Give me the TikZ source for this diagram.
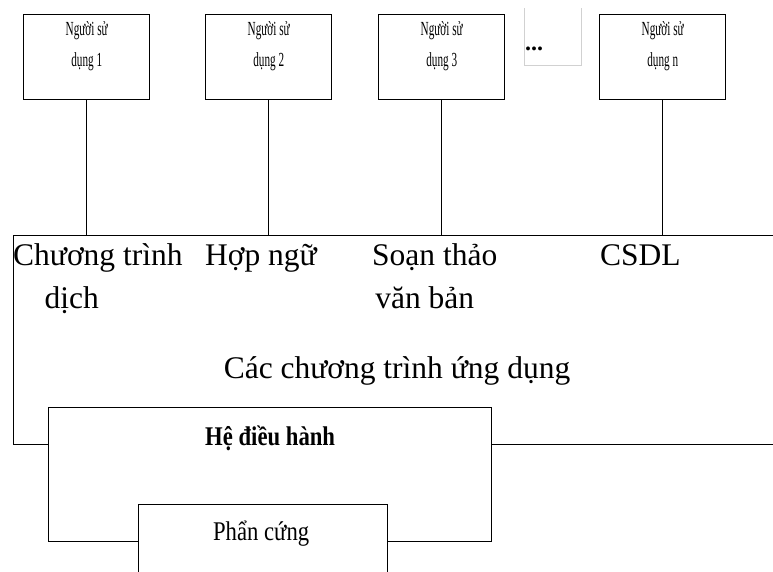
\documentclass[tikz,border=0pt]{standalone}
\usepackage{fontspec}
\setmainfont{Liberation Serif}
\newfontfamily\usrfont[FakeStretch=0.56]{Liberation Serif}
\newfontfamily\layerfont[FakeStretch=0.84]{Liberation Serif}
\usetikzlibrary{positioning}
\tikzset{
    userbox/.style={draw, line width=1.4pt, minimum width=126pt, minimum height=85pt, inner sep=0pt, anchor=north west},
    usertext/.style={align=center, inner sep=0pt, font=\usrfont\fontsize{20}{31}\selectfont},
    layerbox/.style={draw, fill=white, line width=1.3pt, inner sep=0pt, anchor=north west},
    apptext/.style={inner sep=0pt, align=left, font=\fontsize{31.5}{43}\selectfont},
    layertext/.style={inner sep=0pt, anchor=base, font=\layerfont\fontsize{27}{32}\selectfont},
    link/.style={line width=1.2pt},
    dotsline/.style={line width=0.8pt, black!18}
}

\begin{document}
\begin{tikzpicture}[x=1pt, y=-1pt]
    \useasboundingbox (0,0) rectangle (773,571);
    \clip (0,0) rectangle (773,571);

    % layers, bottom one drawn last
    \node[layerbox, minimum width=787pt, minimum height=209pt] (apps) at (13,235) {};
    \node[layerbox, minimum width=443pt, minimum height=134pt] (os) at (48,407) {};
    \node[layerbox, minimum width=249pt, minimum height=100pt] (hw) at (138,504) {};

    \node[layertext, font=\layerfont\bfseries\fontsize{27}{32}\selectfont] (ostext) at ([yshift=-38pt]os.north) {Hệ điều hành};
    \node[layertext] (hwtext) at ([xshift=-2pt, yshift=-36pt]hw.north) {Phẩn cứng};

    % users
    \node[userbox] (u1) at (23,14) {};
    \node[userbox] (u2) at (205,14) {};
    \node[userbox] (u3) at (378,14) {};
    \node[userbox] (un) at (599,14) {};
    \node[usertext, below=7pt of u1.north] (t1) {Người sử\\dụng 1};
    \node[usertext, below=7pt of u2.north] (t2) {Người sử\\dụng 2};
    \node[usertext, below=7pt of u3.north] (t3) {Người sử\\dụng 3};
    \node[usertext, below=7pt of un.north] (tn) {Người sử\\dụng n};

    \node[minimum width=57pt, minimum height=57pt, inner sep=0pt, anchor=north west] (dotsbox) at (524,8) {};
    \draw[dotsline] (dotsbox.north west) |- (dotsbox.south east) -- (dotsbox.north east);
    \node[inner sep=0pt, anchor=base west, font=\bfseries\fontsize{24}{28}\selectfont] (dots) at ([xshift=1pt, yshift=15pt]dotsbox.south west) {...};

    \draw[link] (u1) -- (u1 |- apps.north);
    \draw[link] (u2) -- (u2 |- apps.north);
    \draw[link] (u3) -- (u3 |- apps.north);
    \draw[link] (un) -- (un |- apps.north);

    % programs
    \node[apptext, anchor=north west] (compiler) at (13,243) {Chương trình\\\hspace*{1em}dịch};
    \node[apptext, anchor=base west] (asm) at (205,265) {Hợp ngữ};
    \node[apptext, anchor=north west] (editor) at (372,243) {Soạn thảo\\\hspace*{0.1em}văn bản};
    \node[apptext, anchor=base west] (dbms) at (600,265) {CSDL};
    \node[apptext, anchor=base] (apptitle) at (397,378) {Các chương trình ứng dụng};
\end{tikzpicture}
\end{document}
